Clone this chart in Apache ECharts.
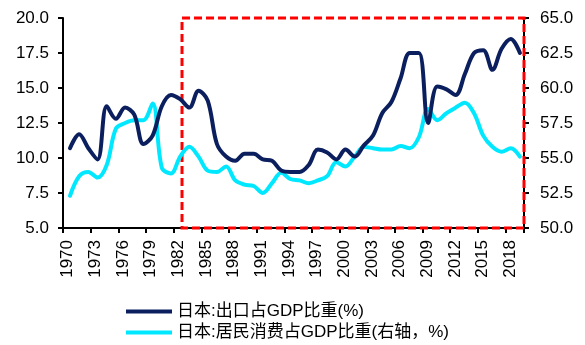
<!DOCTYPE html>
<html>
<head>
<meta charset="utf-8">
<script src="https://cdn.jsdelivr.net/npm/echarts@6/dist/echarts.min.js"></script>
<style>html,body{margin:0;padding:0;background:#fff;}#c{width:585px;height:345px;}</style>
</head>
<body>
<div id="c"></div>
<script>
// ---- data ----
const years = [1970,1971,1972,1973,1974,1975,1976,1977,1978,1979,
  1980,1981,1982,1983,1984,1985,1986,1987,1988,1989,
  1990,1991,1992,1993,1994,1995,1996,1997,1998,1999,
  2000,2001,2002,2003,2004,2005,2006,2007,2008,2009,
  2010,2011,2012,2013,2014,2015,2016,2017,2018,2019];
const exportShare = [10.7,11.7,10.7,9.9,13.7,12.8,13.6,13.1,11.0,11.6,
  13.7,14.5,14.2,13.6,14.8,14.1,11.0,10.1,9.8,10.3,
  10.3,9.9,9.8,9.1,9.0,9.0,9.5,10.6,10.4,9.9,
  10.6,10.1,10.9,11.6,13.2,14.0,15.7,17.5,17.5,12.5,
  15.1,14.9,14.5,16.0,17.5,17.7,16.3,17.8,18.5,17.5];
const consumptionShare = [52.3,53.7,54.0,53.6,54.5,57.1,57.5,57.7,57.7,58.9,
  54.3,53.9,55.1,55.8,55.1,54.1,54.0,54.4,53.4,53.1,
  53.0,52.5,53.2,53.95,53.5,53.4,53.2,53.4,53.7,54.7,
  54.4,55.1,55.8,55.7,55.6,55.6,55.85,55.7,56.5,58.5,
  57.7,58.2,58.6,58.95,58.2,56.6,55.8,55.45,55.7,55.1];
const yearLabels = years.map(String);
const seriesNames = ['日本:出口占GDP比重(%)', '日本:居民消费占GDP比重(右轴，%)'];
const highlightStart = 1982.2; // red dashed box start (year)

// ---- chart ----
const xMin = 1969.24, xMax = 2019.44;
const font = '"Liberation Sans", Arial, "Noto Sans CJK SC", sans-serif';
const chart = echarts.init(document.getElementById('c'), null, {renderer: 'canvas'});
chart.setOption({
  animation: false,
  backgroundColor: '#fff',
  grid: {left: 63, right: 61, top: 18, bottom: 117, containLabel: false},
  legend: {
    orient: 'vertical', left: 126, top: 302, itemGap: 2, padding: 0,
    itemWidth: 46, itemHeight: 4, icon: 'rect',
    textStyle: {fontFamily: font, fontSize: 17, color: '#000', lineHeight: 19},
    data: seriesNames
  },
  xAxis: [{
    // visible category axis: line, ticks and year labels
    type: 'category', data: yearLabels, boundaryGap: true,
    splitLine: {show: false},
    axisLine: {lineStyle: {color: '#000', width: 2}},
    axisTick: {show: true, interval: 2, length: 5, alignWithLabel: false, lineStyle: {color: '#000', width: 2}},
    axisLabel: {show: true, interval: 2, rotate: 90, margin: 12, fontFamily: font, fontSize: 17, color: '#000'}
  }, {
    // hidden value axis carrying the series positions
    type: 'value', min: xMin, max: xMax, show: false,
    splitLine: {show: false}
  }],
  yAxis: [{
    type: 'value', min: 5, max: 20, interval: 2.5, position: 'left',
    splitLine: {show: false},
    axisLine: {show: true, lineStyle: {color: '#000', width: 2}},
    axisTick: {show: true, length: 5, lineStyle: {color: '#000', width: 2}},
    axisLabel: {margin: 14, fontFamily: font, fontSize: 17, color: '#000', formatter: v => v.toFixed(1)}
  }, {
    type: 'value', min: 50, max: 65, interval: 2.5, position: 'right',
    splitLine: {show: false},
    axisLine: {show: true, lineStyle: {color: '#000', width: 2}},
    axisTick: {show: true, length: 5, lineStyle: {color: '#000', width: 2}},
    axisLabel: {margin: 16, fontFamily: font, fontSize: 17, color: '#000', formatter: v => v.toFixed(1)}
  }],
  series: [{
    name: seriesNames[0], type: 'line', xAxisIndex: 1, yAxisIndex: 0, smooth: 0.35,
    showSymbol: false, symbol: 'none',
    lineStyle: {color: '#0B1F5E', width: 4, cap: 'round'},
    itemStyle: {color: '#0B1F5E'},
    data: years.map((y, i) => [y, exportShare[i]]),
    markArea: {
      silent: true,
      itemStyle: {color: 'rgba(0,0,0,0)', borderColor: '#FF0000', borderWidth: 3, borderType: [8, 4]},
      data: [[{coord: [highlightStart, 20]}, {coord: [xMax, 5]}]]
    },
    z: 3
  }, {
    name: seriesNames[1], type: 'line', xAxisIndex: 1, yAxisIndex: 1, smooth: 0.35,
    showSymbol: false, symbol: 'none',
    lineStyle: {color: '#00E8FF', width: 4, cap: 'round'},
    itemStyle: {color: '#00E8FF'},
    data: years.map((y, i) => [y, consumptionShare[i]]),
    z: 2
  }]
});
</script>
</body>
</html>
